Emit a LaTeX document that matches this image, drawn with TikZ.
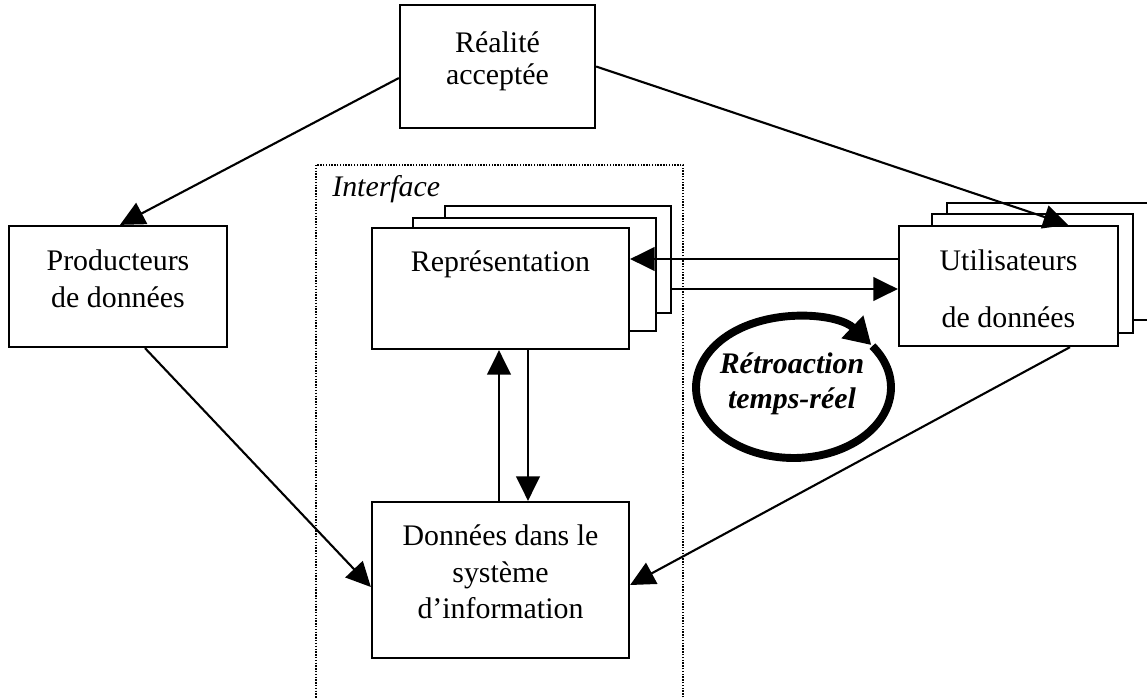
\documentclass[tikz,border=0pt]{standalone}
\usepackage{fontspec}
\setmainfont{Liberation Serif}
\usetikzlibrary{arrows.meta}

\begin{document}
\begin{tikzpicture}[x=0.02cm, y=-0.02cm,
    box/.style={draw, line width=1.3pt, fill=white, inner sep=0pt},
    txt/.style={font=\fontsize{17}{20}\selectfont, inner sep=0pt, anchor=base},
    link/.style={line width=1.2pt, -{Triangle[length=14pt,width=13.5pt]}},
    retro/.style={line width=4.5pt, -{Triangle[length=15pt,width=17pt]}}]
  \useasboundingbox (0,0) rectangle (1147,697);
  \clip (0,0) rectangle (1147,697);
  \draw[line width=1pt, dash pattern=on 0.8pt off 0.8pt] (316,165) rectangle (683,720);
  \node[txt, anchor=base west, font=\fontsize{17}{20}\selectfont\itshape] (iface) at (332,196) {Interface};
  \node[box, minimum width=3.9cm, minimum height=2.46cm] (real) at (497.5,66.5) {};
  \node[txt] (real-a) at (497.5,52) {Réalité};
  \node[txt] (real-b) at (497.5,84) {acceptée};
  \node[box, minimum width=4.36cm, minimum height=2.42cm] (prod) at (118,286.5) {};
  \node[txt] (prod-a) at (118,270) {Producteurs};
  \node[txt] (prod-b) at (118,307) {de données};
  \node[box, minimum width=4.52cm, minimum height=2.14cm] (repr3) at (558,259.5) {};
  \node[box, minimum width=4.86cm, minimum height=2.26cm] (repr2) at (534.5,274.5) {};
  \node[box, minimum width=5.14cm, minimum height=2.42cm] (repr) at (500.5,288.5) {};
  \node[txt] (repr-a) at (500.5,271) {Représentation};
  \node[box, minimum width=4.46cm, minimum height=2.34cm] (util3) at (1058.5,261.5) {};
  \node[box, minimum width=4.02cm, minimum height=2.38cm] (util2) at (1032.5,273.5) {};
  \node[box, minimum width=4.38cm, minimum height=2.40cm] (util) at (1008.5,286) {};
  \node[txt] (util-a) at (1008.5,270) {Utilisateurs};
  \node[txt] (util-b) at (1008.5,327) {de données};
  \node[box, minimum width=5.14cm, minimum height=3.12cm] (donn) at (500.5,580) {};
  \node[txt] (donn-a) at (500.5,545) {Données dans le};
  \node[txt] (donn-b) at (500.5,582) {système};
  \node[txt] (donn-c) at (500.5,618) {d’information};
  \draw[link] (real.west |- 0,78) -- (prod.north -| 120,0);
  \draw[link] (real.east) -- (util.north -| 1068,0);
  \draw[link] (prod.south -| 145,0) -- (donn.west |- 0,587);
  \draw[link] (util.south -| 1070,0) -- (donn.east |- 0,585);
  \draw[link] (util.west |- 0,259) -- (repr.east |- 0,259);
  \draw[link] (repr3.east |- 0,289) -- (util.west |- 0,289);
  \draw[link] (donn.north -| 499,0) -- (repr.south -| 499,0);
  \draw[link] (repr.south -| 528,0) -- (donn.north -| 528,0);
  \coordinate (fb) at (793.5,387.5);
  \draw[retro] ([shift={(36:1.95cm and 1.41cm)}]fb) arc[start angle=36, end angle=-323, x radius=1.95cm, y radius=1.41cm];
  \node[txt, font=\fontsize{17}{20}\selectfont\bfseries\itshape] (fb-a) at (792,373) {Rétroaction};
  \node[txt, font=\fontsize{17}{20}\selectfont\bfseries\itshape] (fb-b) at (792,408) {temps-réel};
\end{tikzpicture}
\end{document}
